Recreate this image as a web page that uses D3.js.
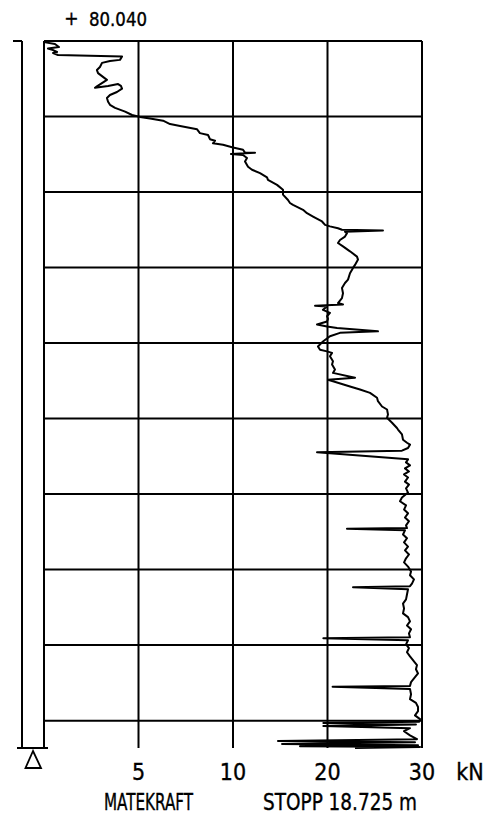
<!DOCTYPE html>
<html><head><meta charset="utf-8">
<script src="https://cdn.jsdelivr.net/npm/d3@7"></script>
<style>
html,body{margin:0;padding:0;background:#fff;}
svg{display:block;}
text{font-family:"Liberation Sans Narrow","DejaVu Sans Condensed","Liberation Sans",sans-serif;fill:#000;stroke:#000;stroke-width:0.35;}
</style></head>
<body>
<svg id="c" width="499" height="815"></svg>
<script>
// ---- data ----
const forceTicks = [5, 10, 20, 30];
const forceTickLabels = ["5", "10", "20", "30"];
const depthGrid = [2, 4, 6, 8, 10, 12, 14, 16, 18];
const stopDepth = 18.725;
const elevationSign = "+";
const elevationValue = "80.040";
const unitLabel = "kN";
const titleLabel = "MATEKRAFT";
const stopLabel = "STOPP 18.725 m";

// depth (m) and force (kN) along the sounding
const depth = [
0.03,0.08,0.16,0.20,0.24,0.29,0.32,0.37,0.41,0.50,0.53,0.58,0.69,0.77,0.85,0.95,1.03,1.20,1.24,1.19,1.14,1.19,1.26,1.35,1.43,1.51,1.61,1.69,1.77,1.87,1.96,2.01,
2.05,2.11,2.20,2.25,2.34,2.44,2.49,2.60,2.64,2.71,2.75,2.82,2.88,2.955,2.96,2.99,3.02,3.10,3.19,3.33,3.41,3.50,3.61,3.68,3.81,3.94,4.07,4.21,4.29,
4.34,4.47,4.56,4.65,4.78,4.87,4.91,4.96,5.00,5.02,5.05,5.09,5.18,5.27,5.35,5.44,5.57,5.71,5.79,5.93,6.01,6.15,6.32,6.41,6.54,6.68,6.81,6.94,6.98,7.01,7.03,7.12,7.20,7.29,
7.36,7.43,7.51,7.56,7.60,7.69,7.73,7.82,7.96,8.09,8.18,8.22,8.26,8.35,8.48,8.57,8.70,8.79,8.92,8.97,9.01,9.15,9.23,9.32,9.45,9.54,9.68,9.76,9.89,9.98,10.11,10.25,
10.29,10.42,10.56,10.64,10.69,10.78,10.85,10.89,11.08,11.16,11.24,11.32,11.40,11.48,11.56,11.67,11.75,11.85,11.96,12.09,12.19,12.30,12.41,12.51,12.62,12.72,12.83,12.90,12.92,12.96,
13.07,13.17,13.28,13.39,13.49,13.60,13.70,13.81,13.92,14.05,14.15,14.26,14.37,14.44,14.47,14.52,
14.66,14.79,14.90,15.03,15.16,15.26,15.37,15.48,15.58,15.69,15.79,15.82,15.87,15.98,16.08,16.19,16.30,16.43,16.53,16.64,16.75,16.85,16.98,17.08,17.10,17.16,
17.30,17.43,17.53,17.64,17.75,17.86,17.96,18.03,18.06,18.10,18.14,18.20,18.28,18.39,18.49,18.54,18.57,18.62,18.65,18.68,18.70,18.725
];
const force = [
0.00,0.58,0.79,0.21,0.48,0.69,0.48,0.74,4.13,4.02,3.49,3.07,2.96,2.80,2.86,3.12,3.33,2.80,2.70,3.39,3.92,4.07,4.13,3.86,3.49,3.33,3.39,3.49,3.76,4.29,4.66,5.08,
5.61,6.30,6.67,7.20,8.10,8.25,8.68,8.78,9.05,8.94,9.47,10.00,11.06,11.27,12.33,9.89,11.06,11.48,11.27,11.59,12.01,12.86,13.60,13.70,14.66,15.29,15.29,15.82,16.03,
16.35,17.41,17.83,18.47,19.42,19.74,20.26,21.11,21.53,25.87,21.85,22.06,21.85,21.32,21.11,21.64,22.38,23.12,23.23,22.91,22.70,22.38,22.17,21.85,21.53,21.64,21.53,21.11,21.64,18.68,19.95,19.52,20.26,19.95,
20.05,19.95,18.89,19.95,21.01,25.34,21.32,20.26,19.52,18.99,19.21,19.95,20.48,20.26,20.58,20.48,20.79,20.58,22.91,20.05,20.58,22.38,23.44,24.50,25.24,25.34,25.77,26.30,26.40,26.30,26.83,27.35,
27.46,27.88,27.99,28.41,28.73,28.52,27.88,18.89,28.52,28.31,28.73,28.20,28.62,28.10,28.52,28.20,28.62,28.31,28.52,27.88,27.67,28.31,28.10,28.52,28.20,28.62,28.31,28.41,22.06,28.20,
27.99,28.41,28.10,28.52,28.20,28.62,28.31,28.10,28.52,28.84,28.73,29.15,28.94,28.73,22.70,28.52,
28.41,28.31,27.99,28.10,27.99,28.52,28.73,28.41,28.84,28.62,28.73,19.56,28.52,28.31,28.62,28.41,28.73,29.15,29.47,29.36,29.58,29.26,28.84,28.73,20.54,28.73,
28.84,28.73,29.36,29.58,29.58,29.26,29.79,29.68,19.56,29.36,19.56,28.73,28.10,28.73,29.47,14.76,29.26,15.19,29.58,17.09,29.79,22.91
];

// ---- drawing ----
const svg = d3.select("#c");
const x = d3.scaleLinear().domain([0, 10, 30]).range([44, 233, 422]);
const y = d3.scaleLinear().domain([0, stopDepth]).range([41, 748]);
const K = "#000";

// frame
svg.append("line").attr("x1", x(0)).attr("x2", x(30)).attr("y1", y(0)).attr("y2", y(0))
  .attr("stroke", K).attr("stroke-width", 2);
[0, 30].forEach(v => svg.append("line").attr("x1", x(v)).attr("x2", x(v))
  .attr("y1", y(0)).attr("y2", y(stopDepth)).attr("stroke", K).attr("stroke-width", 2));

// grid
svg.append("g").selectAll("line").data(forceTicks.filter(v => v < 30)).join("line")
  .attr("x1", d => x(d)).attr("x2", d => x(d)).attr("y1", y(0)).attr("y2", y(stopDepth))
  .attr("stroke", K).attr("stroke-width", 2);
svg.append("g").selectAll("line").data(depthGrid).join("line")
  .attr("x1", x(0)).attr("x2", x(30)).attr("y1", d => y(d)).attr("y2", d => y(d))
  .attr("stroke", K).attr("stroke-width", 2);

// left depth bar
svg.append("line").attr("x1", 22).attr("x2", 22).attr("y1", y(0)).attr("y2", y(stopDepth))
  .attr("stroke", K).attr("stroke-width", 2);
svg.append("line").attr("x1", 13).attr("x2", 22).attr("y1", y(0)).attr("y2", y(0))
  .attr("stroke", K).attr("stroke-width", 2);
svg.append("line").attr("x1", 17).attr("x2", 48).attr("y1", y(stopDepth)).attr("y2", y(stopDepth))
  .attr("stroke", K).attr("stroke-width", 2);
svg.append("path").attr("d", `M33,${y(stopDepth)+3} L25.5,768 L41,768 Z`)
  .attr("fill", "none").attr("stroke", K).attr("stroke-width", 1.8);

// curve
const pts = depth.map((d, i) => [force[i], d]);
svg.append("path").datum(pts)
  .attr("d", d3.line().x(d => x(d[0])).y(d => y(d[1])))
  .attr("fill", "none").attr("stroke", K).attr("stroke-width", 2).attr("stroke-linejoin", "round");

// texts
svg.append("text").attr("x", 71.5).attr("y", 25).attr("text-anchor", "middle").attr("font-size", 19).text(elevationSign);
svg.append("text").attr("x", 89).attr("y", 26).attr("font-size", 19)
  .attr("textLength", 58).attr("lengthAdjust", "spacingAndGlyphs").text(elevationValue);
svg.append("g").selectAll("text").data(forceTicks).join("text")
  .attr("x", d => x(d)).attr("y", 780).attr("text-anchor", "middle").attr("font-size", 23)
  .text((d, i) => forceTickLabels[i]);
svg.append("text").attr("x", 470).attr("y", 780).attr("text-anchor", "middle").attr("font-size", 23).text(unitLabel);
svg.append("text").attr("x", 104).attr("y", 810).attr("font-size", 23)
  .attr("textLength", 89).attr("lengthAdjust", "spacingAndGlyphs").text(titleLabel);
svg.append("text").attr("x", 263).attr("y", 810).attr("font-size", 23)
  .attr("textLength", 154).attr("lengthAdjust", "spacingAndGlyphs").text(stopLabel);
</script>
</body></html>
